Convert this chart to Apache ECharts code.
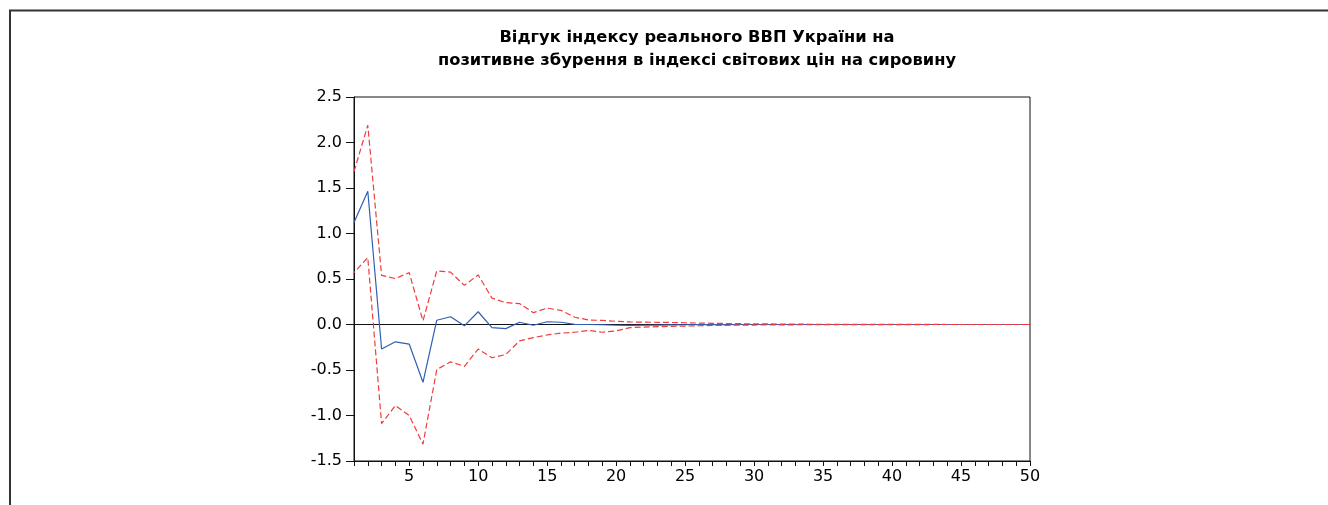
<!DOCTYPE html>
<html>
<head>
<meta charset="utf-8">
<title>Відгук індексу реального ВВП України</title>
<script src="https://cdn.jsdelivr.net/npm/echarts@6/dist/echarts.min.js"></script>
<style>
  html, body { margin: 0; padding: 0; background: #fff; }
  #chart { width: 1328px; height: 505px; }
</style>
</head>
<body>
<div id="chart"></div>
<script>
// періоди 1..50
const periods = []
for (let i = 1; i <= 50; i++) periods.push(i)

// відгук (синя лінія)
const response = [
  1.12, 1.465, -0.27, -0.19, -0.215, -0.635, 0.047, 0.085, -0.015, 0.14,
  -0.035, -0.045, 0.025, -0.008, 0.03, 0.025, 0.002, 0.0, -0.003, -0.008,
  -0.01, -0.008, -0.006, -0.004, -0.003, -0.002, -0.001, -0.001, 0.0, 0.0,
  0.0, 0.0, 0.0, 0.0, 0.0, 0.0, 0.0, 0.0, 0.0, 0.0,
  0.0, 0.0, 0.0, 0.0, 0.0, 0.0, 0.0, 0.0, 0.0, 0.0
]

// верхня межа (± 2 s.e.)
const upperBand = [
  1.68, 2.19, 0.54, 0.505, 0.57, 0.04, 0.59, 0.575, 0.43, 0.545,
  0.29, 0.24, 0.23, 0.13, 0.18, 0.155, 0.08, 0.05, 0.045, 0.035,
  0.028, 0.026, 0.024, 0.022, 0.019, 0.016, 0.013, 0.011, 0.009, 0.007,
  0.006, 0.005, 0.004, 0.003, 0.003, 0.002, 0.002, 0.002, 0.001, 0.001,
  0.001, 0.001, 0.001, 0.0, 0.0, 0.0, 0.0, 0.0, 0.0, 0.0
]

// нижня межа
const lowerBand = [
  0.57, 0.735, -1.09, -0.89, -1.0, -1.315, -0.495, -0.41, -0.46, -0.27,
  -0.365, -0.33, -0.18, -0.145, -0.115, -0.095, -0.085, -0.065, -0.085, -0.07,
  -0.035, -0.028, -0.024, -0.02, -0.017, -0.014, -0.011, -0.009, -0.007, -0.006,
  -0.005, -0.004, -0.003, -0.003, -0.002, -0.002, -0.002, -0.001, -0.001, -0.001,
  -0.001, -0.001, 0.0, 0.0, 0.0, 0.0, 0.0, 0.0, 0.0, 0.0
]

const yTicks = [-1.5, -1.0, -0.5, 0.0, 0.5, 1.0, 1.5, 2.0, 2.5]

const font = 'DejaVu Sans'
const chart = echarts.init(document.getElementById('chart'))

const option = {
  backgroundColor: '#fff',
  animation: false,
  title: {
    text: 'Відгук індексу реального ВВП України на\nпозитивне збурення в індексі світових цін на сировину',
    left: 692,
    textAlign: 'center',
    top: 21,
    textStyle: {
      fontFamily: font,
      fontWeight: 'bold',
      fontSize: 16.3,
      lineHeight: 23,
      color: '#000'
    }
  },
  // зовнішня рамка
  graphic: [
    { type: 'line', shape: { x1: 9, y1: 10.5, x2: 1328, y2: 10.5 }, style: { stroke: '#333', lineWidth: 2 } },
    { type: 'line', shape: { x1: 10, y1: 10, x2: 10, y2: 505 }, style: { stroke: '#333', lineWidth: 2 } }
  ],
  grid: {
    left: 354,
    right: 298,
    top: 97,
    bottom: 44,
    show: true,
    borderColor: '#111',
    borderWidth: 1,
    backgroundColor: 'transparent'
  },
  xAxis: {
    type: 'category',
    data: periods,
    boundaryGap: false,
    axisLine: { onZero: false, lineStyle: { color: '#111' } },
    axisTick: { interval: 0, length: 5, lineStyle: { color: '#111' } },
    axisLabel: {
      interval: (idx, val) => val % 5 === 0,
      color: '#000',
      fontFamily: font,
      fontSize: 16,
      margin: 8
    },
    splitLine: { show: false }
  },
  yAxis: {
    type: 'value',
    min: yTicks[0],
    max: yTicks[yTicks.length - 1],
    interval: 0.5,
    axisLine: { show: true, lineStyle: { color: '#111' } },
    axisTick: { show: true, length: 8, lineStyle: { color: '#111' } },
    axisLabel: {
      color: '#000',
      fontFamily: font,
      fontSize: 16,
      margin: 12,
      formatter: v => v.toFixed(1)
    },
    splitLine: { show: false }
  },
  series: [
    {
      // нульова лінія
      type: 'line',
      data: [],
      z: 1,
      silent: true,
      markLine: {
        z: 1,
        silent: true,
        symbol: 'none',
        label: { show: false },
        lineStyle: { color: '#111', width: 1, type: 'solid' },
        data: [{ yAxis: 0 }]
      }
    },
    {
      name: 'response',
      type: 'line',
      data: response,
      z: 2,
      showSymbol: false,
      lineStyle: { color: '#2f5fb3', width: 1.2 }
    },
    {
      name: 'upper',
      type: 'line',
      data: upperBand,
      z: 3,
      showSymbol: false,
      lineStyle: { color: '#f03c3c', width: 1.2, type: [6, 3] }
    },
    {
      name: 'lower',
      type: 'line',
      data: lowerBand,
      z: 3,
      showSymbol: false,
      lineStyle: { color: '#f03c3c', width: 1.2, type: [6, 3], dashOffset: 4.5 }
    }
  ]
}

chart.setOption(option)
</script>
</body>
</html>
